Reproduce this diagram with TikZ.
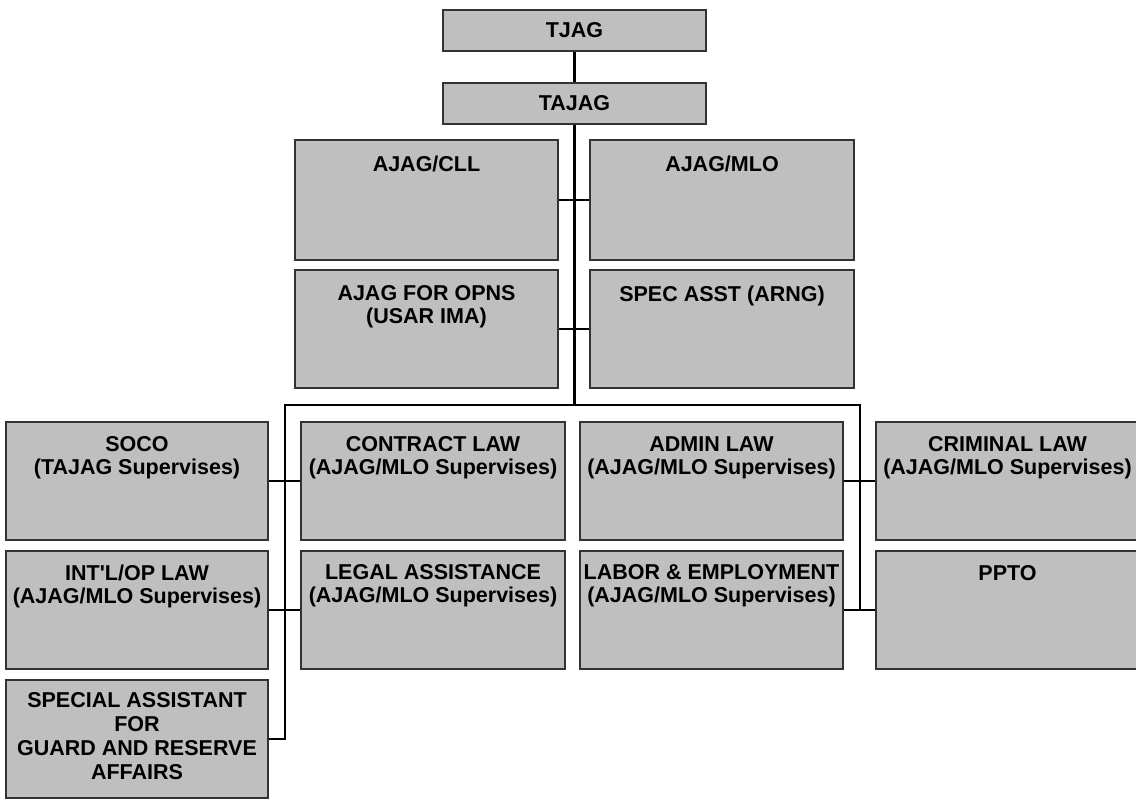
\documentclass[tikz,border=0pt]{standalone}
\usepackage{fontspec}
\newfontfamily\orgfont{Liberation Sans}
\begin{document}
\begin{tikzpicture}[x=1pt,y=-1pt,
  orgbox/.style={draw=black!80, line width=1.2pt, fill=black!25, rectangle, inner sep=0pt},
  rowbox/.style={orgbox, minimum width=263pt, minimum height=118pt},
  topbox/.style={orgbox, minimum width=263pt, minimum height=41pt,
     font=\orgfont\bfseries\fontsize{21.5}{23}\selectfont},
  lbl/.style={font=\orgfont\bfseries\fontsize{21.5}{23}\selectfont, align=center, inner sep=0pt, anchor=north},
  conn/.style={line width=2.2pt, black, line join=miter}]
\useasboundingbox (0,0) rectangle (1136,799);

% top of the chart
\node[topbox] (tjag)  at (574.5,30.5)  {TJAG};
\node[topbox] (tajag) at (574.5,103.5) {TAJAG};

% deputies
\node[orgbox, minimum width=263pt, minimum height=120pt] (cll) at (426.5,200) {};
\node[orgbox, minimum width=264pt, minimum height=120pt] (mlo) at (722,200) {};
\node[rowbox] (opns) at (426.5,329) {};
\node[rowbox, minimum width=264pt] (arng) at (722,329) {};

% divisions, first row
\node[rowbox, minimum width=262pt] (soco) at (137,481) {};
\node[rowbox, minimum width=264pt] (contract) at (433,481) {};
\node[rowbox] (admin) at (711.5,481) {};
\node[rowbox] (criminal) at (1007.5,481) {};

% divisions, second row
\node[rowbox, minimum width=262pt] (intl) at (137,610) {};
\node[rowbox, minimum width=264pt] (legal) at (433,610) {};
\node[rowbox] (labor) at (711.5,610) {};
\node[rowbox] (ppto) at (1007.5,610) {};

% third row
\node[rowbox, minimum width=262pt] (gra) at (137,739) {};

% labels
\node[lbl] (tcll)  at ([yshift=-16pt]cll.north)  {AJAG/CLL};
\node[lbl] (tmlo)  at ([yshift=-16pt]mlo.north)  {AJAG/MLO};
\node[lbl] (topns) at ([yshift=-16pt]opns.north) {AJAG FOR OPNS\\(USAR IMA)};
\node[lbl] (tarng) at ([yshift=-16pt]arng.north) {SPEC ASST (ARNG)};
\node[lbl] (tsoco) at ([yshift=-15pt]soco.north) {SOCO\\(TAJAG Supervises)};
\node[lbl] (tcontract) at ([yshift=-15pt]contract.north) {CONTRACT LAW\\(AJAG/MLO Supervises)};
\node[lbl] (tadmin) at ([yshift=-15pt]admin.north) {ADMIN LAW\\(AJAG/MLO Supervises)};
\node[lbl] (tcriminal) at ([yshift=-15pt]criminal.north) {CRIMINAL LAW\\(AJAG/MLO Supervises)};
\node[lbl] (tintl) at ([yshift=-14pt]intl.north) {INT'L/OP LAW\\(AJAG/MLO Supervises)};
\node[lbl] (tlegal) at ([yshift=-14pt]legal.north) {LEGAL ASSISTANCE\\(AJAG/MLO Supervises)};
\node[lbl] (tlabor) at ([yshift=-14pt]labor.north) {LABOR \& EMPLOYMENT\\(AJAG/MLO Supervises)};
\node[lbl] (tppto) at ([yshift=-15pt]ppto.north) {PPTO};
\node[lbl, font=\orgfont\bfseries\fontsize{21.5}{24}\selectfont] (tgra) at ([yshift=-13pt]gra.north)
  {SPECIAL ASSISTANT\\FOR\\GUARD AND RESERVE\\AFFAIRS};

% connectors
\coordinate (busL) at (285,405);
\coordinate (busR) at (860,405);
\draw[conn] (tjag.south) -- (tajag.north);
\draw[conn] (tajag.south) -- (tajag.south |- busL);
\draw[conn] (cll.east) -- (mlo.west);
\draw[conn] (opns.east) -- (arng.west);
\draw[conn] (gra.east) -| (busL) -- (busR) -- (busR |- labor.east);
\draw[conn] (soco.east) -- (contract.west);
\draw[conn] (intl.east) -- (legal.west);
\draw[conn] (admin.east) -- (criminal.west);
\draw[conn] (labor.east) -- (ppto.west);
\end{tikzpicture}
\end{document}
